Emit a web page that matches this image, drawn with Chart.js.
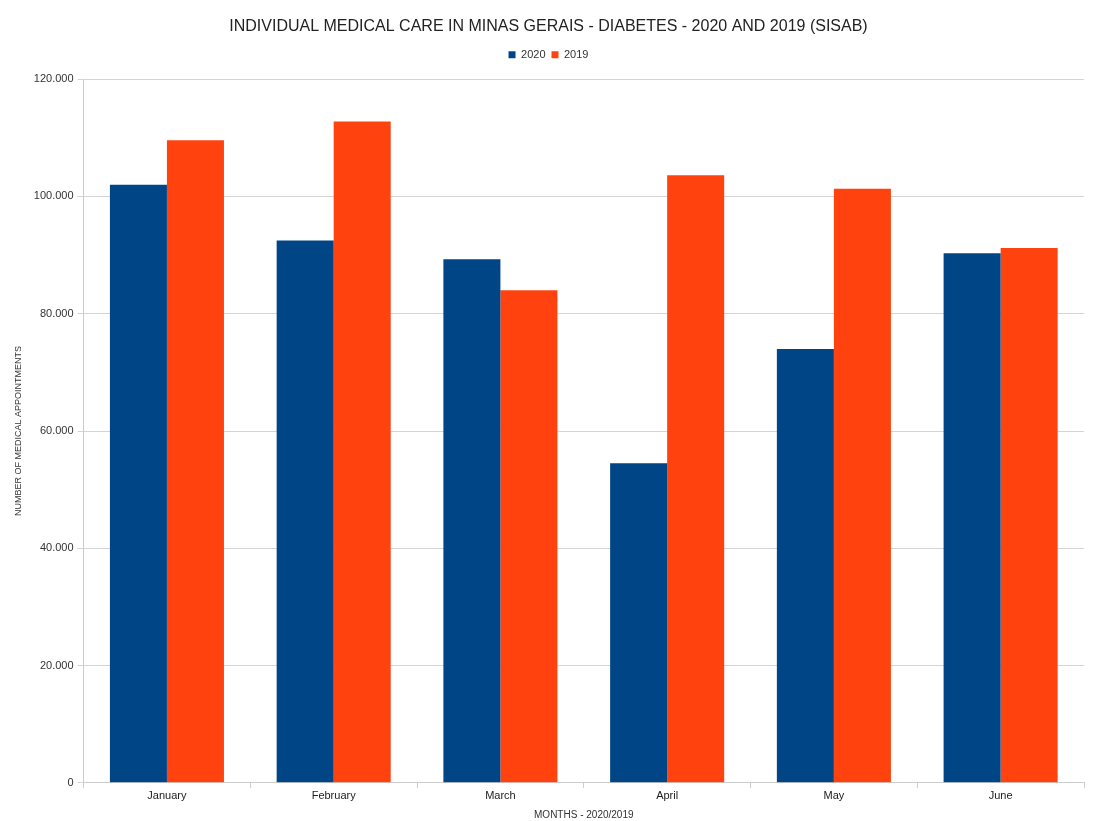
<!DOCTYPE html>
<html>
<head>
<meta charset="utf-8">
<script src="https://cdn.jsdelivr.net/npm/chart.js@4/dist/chart.umd.min.js"></script>
<style>
  html, body { margin: 0; padding: 0; background: #fff; }
  #wrap { width: 1094px; height: 821px; }
</style>
</head>
<body>
<div id="wrap"><canvas id="c" width="1094" height="821"></canvas></div>
<script>
// data
var months = ['January', 'February', 'March', 'April', 'May', 'June']
var care2020 = [102000, 92500, 89300, 54500, 74000, 90300]
var care2019 = [109600, 112800, 84000, 103600, 101300, 91200]
var yTicks = [0, 20000, 40000, 60000, 80000, 100000, 120000]

// 120000 -> "120.000"
function fmt(v) {
  return String(v).replace(/\B(?=(\d{3})+(?!\d))/g, '.')
}

var FONT = 'Liberation Sans, Arial, sans-serif'
Chart.defaults.font.family = FONT
Chart.defaults.color = '#333'

// extra room under the legend
var legendGap = {
  id: 'legendGap',
  beforeInit: function (chart) {
    var orig = chart.legend.fit
    chart.legend.fit = function () {
      orig.bind(chart.legend)()
      this.height += 9
    }
  }
}

new Chart(document.getElementById('c'), {
  type: 'bar',
  data: {
    labels: months,
    datasets: [
      { label: '2020', data: care2020, backgroundColor: '#004586', categoryPercentage: 0.684, barPercentage: 1 },
      { label: '2019', data: care2019, backgroundColor: '#ff420e', categoryPercentage: 0.684, barPercentage: 1 }
    ]
  },
  options: {
    responsive: false,
    animation: false,
    layout: { padding: { top: 17, right: 10, bottom: 0, left: 13 } },
    plugins: {
      title: {
        display: true,
        text: 'INDIVIDUAL MEDICAL CARE IN MINAS GERAIS - DIABETES - 2020 AND 2019 (SISAB)',
        font: { size: 16, weight: 'normal' },
        color: '#222',
        padding: { top: 0, bottom: 7 }
      },
      legend: {
        labels: {
          boxWidth: 7, boxHeight: 7,
          padding: 6,
          font: { size: 11 },
          color: '#333'
        }
      },
      tooltip: { enabled: false }
    },
    scales: {
      x: {
        grid: { display: true, offset: true, drawOnChartArea: false, tickLength: 5, color: '#ccc' },
        border: { color: '#ccc' },
        ticks: { font: { size: 11 }, color: '#222', padding: 2 },
        title: { display: true, text: 'MONTHS - 2020/2019', font: { size: 10 }, color: '#333', padding: { top: 4, bottom: 0 } }
      },
      y: {
        min: 0,
        max: 120000,
        afterBuildTicks: function (axis) { axis.ticks = yTicks.map(function (v) { return { value: v } }) },
        grid: { color: '#d4d4d4', tickLength: 6 },
        border: { color: '#ccc' },
        ticks: { font: { size: 11 }, color: '#333', padding: 4, callback: function (v) { return fmt(v) } },
        title: { display: true, text: 'NUMBER OF MEDICAL APPOINTMENTS', font: { size: 9 }, color: '#333', padding: { top: 0, bottom: 6 } }
      }
    }
  },
  plugins: [legendGap]
})
</script>
</body>
</html>
